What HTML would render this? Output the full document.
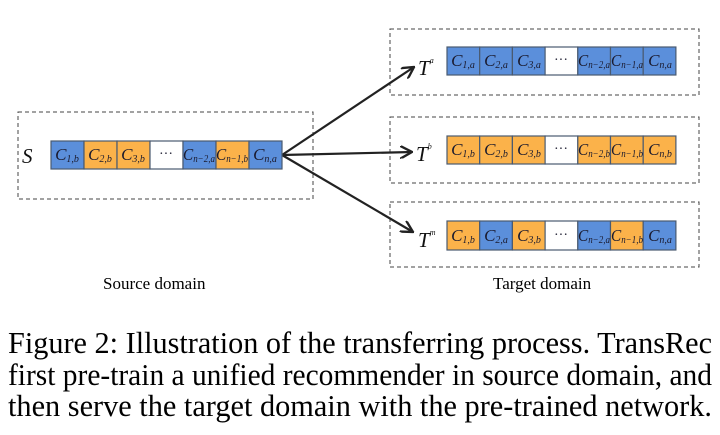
<!DOCTYPE html>
<html><head><meta charset="utf-8"><style>
html,body{margin:0;padding:0;background:#fff;}
svg{display:block;}
.c{font-family:"Liberation Serif",serif;font-style:italic;font-size:17px;fill:#1a1a2e;text-anchor:middle;}
.s{font-size:10px;}
.T{font-family:"Liberation Serif",serif;font-style:italic;font-size:21px;fill:#111;}
.cap{font-family:"Liberation Serif",serif;font-size:31px;fill:#000;}
.lab{font-family:"Liberation Serif",serif;font-size:17px;fill:#000;}
</style></head><body>
<svg width="720" height="435" viewBox="0 0 720 435" xmlns="http://www.w3.org/2000/svg">
<defs><marker id="ah" viewBox="0 0 12 12" refX="11" refY="6" markerWidth="13" markerHeight="13" orient="auto" markerUnits="userSpaceOnUse"><path d="M0,0 L11,6 L0,12" fill="none" stroke="#222" stroke-width="2.2"/></marker></defs>
<g fill="none" stroke="#444" stroke-width="1" stroke-dasharray="4,3">
<rect x="18" y="112" width="295" height="87"/>
<rect x="390" y="29" width="309" height="66"/>
<rect x="390" y="117" width="309" height="66"/>
<rect x="390" y="202" width="309" height="65"/>
</g>
<g stroke="#222" stroke-width="2.2" fill="none">
<line x1="282" y1="155" x2="414" y2="67" marker-end="url(#ah)"/>
<line x1="282" y1="155" x2="412" y2="152" marker-end="url(#ah)"/>
<line x1="282" y1="155" x2="413" y2="232" marker-end="url(#ah)"/>
</g>
<text x="22" y="163" class="T">S</text>
<text x="418" y="75" class="T">T<tspan dy="-12" style="font-size:8px">a</tspan></text>
<text x="416" y="161" class="T">T<tspan dy="-12" style="font-size:8px">b</tspan></text>
<text x="418" y="247" class="T">T<tspan dy="-12" style="font-size:8px">m</tspan></text>
<g stroke="#4a5a70" stroke-width="1.2">
<rect x="51" y="141" width="33" height="28" fill="#5b8fdb"/>
<rect x="84" y="141" width="33" height="28" fill="#fbb24a"/>
<rect x="117" y="141" width="33" height="28" fill="#fbb24a"/>
<rect x="150" y="141" width="33" height="28" fill="#fff"/>
<rect x="183" y="141" width="33" height="28" fill="#5b8fdb"/>
<rect x="216" y="141" width="33" height="28" fill="#fbb24a"/>
<rect x="249" y="141" width="33" height="28" fill="#5b8fdb"/>
<rect x="447" y="47" width="32.7" height="28" fill="#5b8fdb"/>
<rect x="479.7" y="47" width="32.7" height="28" fill="#5b8fdb"/>
<rect x="512.4" y="47" width="32.7" height="28" fill="#5b8fdb"/>
<rect x="545.1" y="47" width="32.7" height="28" fill="#fff"/>
<rect x="577.8" y="47" width="32.7" height="28" fill="#5b8fdb"/>
<rect x="610.5" y="47" width="32.7" height="28" fill="#5b8fdb"/>
<rect x="643.2" y="47" width="32.7" height="28" fill="#5b8fdb"/>
<rect x="447" y="136" width="32.7" height="28" fill="#fbb24a"/>
<rect x="479.7" y="136" width="32.7" height="28" fill="#fbb24a"/>
<rect x="512.4" y="136" width="32.7" height="28" fill="#fbb24a"/>
<rect x="545.1" y="136" width="32.7" height="28" fill="#fff"/>
<rect x="577.8" y="136" width="32.7" height="28" fill="#fbb24a"/>
<rect x="610.5" y="136" width="32.7" height="28" fill="#fbb24a"/>
<rect x="643.2" y="136" width="32.7" height="28" fill="#fbb24a"/>
<rect x="447" y="221" width="32.7" height="29" fill="#fbb24a"/>
<rect x="479.7" y="221" width="32.7" height="29" fill="#5b8fdb"/>
<rect x="512.4" y="221" width="32.7" height="29" fill="#fbb24a"/>
<rect x="545.1" y="221" width="32.7" height="29" fill="#fff"/>
<rect x="577.8" y="221" width="32.7" height="29" fill="#5b8fdb"/>
<rect x="610.5" y="221" width="32.7" height="29" fill="#fbb24a"/>
<rect x="643.2" y="221" width="32.7" height="29" fill="#5b8fdb"/>
</g>
<g>
<text x="67" y="160" class="c">C<tspan class="s" dy="2">1,b</tspan></text>
<text x="100" y="160" class="c">C<tspan class="s" dy="2">2,b</tspan></text>
<text x="133" y="160" class="c">C<tspan class="s" dy="2">3,b</tspan></text>
<text x="166" y="158" class="c" style="font-style:normal;font-size:14px">···</text>
<text x="199" y="160" class="c" textLength="32" lengthAdjust="spacingAndGlyphs">C<tspan class="s" dy="2">n−2,a</tspan></text>
<text x="232" y="160" class="c" textLength="32" lengthAdjust="spacingAndGlyphs">C<tspan class="s" dy="2">n−1,b</tspan></text>
<text x="265" y="160" class="c">C<tspan class="s" dy="2">n,a</tspan></text>

<text x="463" y="66" class="c">C<tspan class="s" dy="2">1,a</tspan></text>
<text x="496" y="66" class="c">C<tspan class="s" dy="2">2,a</tspan></text>
<text x="529" y="66" class="c">C<tspan class="s" dy="2">3,a</tspan></text>
<text x="561" y="64" class="c" style="font-style:normal;font-size:14px">···</text>
<text x="594" y="66" class="c" textLength="32" lengthAdjust="spacingAndGlyphs">C<tspan class="s" dy="2">n−2,a</tspan></text>
<text x="627" y="66" class="c" textLength="32" lengthAdjust="spacingAndGlyphs">C<tspan class="s" dy="2">n−1,a</tspan></text>
<text x="660" y="66" class="c">C<tspan class="s" dy="2">n,a</tspan></text>

<text x="463" y="155" class="c">C<tspan class="s" dy="2">1,b</tspan></text>
<text x="496" y="155" class="c">C<tspan class="s" dy="2">2,b</tspan></text>
<text x="529" y="155" class="c">C<tspan class="s" dy="2">3,b</tspan></text>
<text x="561" y="153" class="c" style="font-style:normal;font-size:14px">···</text>
<text x="594" y="155" class="c" textLength="32" lengthAdjust="spacingAndGlyphs">C<tspan class="s" dy="2">n−2,b</tspan></text>
<text x="627" y="155" class="c" textLength="32" lengthAdjust="spacingAndGlyphs">C<tspan class="s" dy="2">n−1,b</tspan></text>
<text x="660" y="155" class="c">C<tspan class="s" dy="2">n,b</tspan></text>

<text x="463" y="241" class="c">C<tspan class="s" dy="2">1,b</tspan></text>
<text x="496" y="241" class="c">C<tspan class="s" dy="2">2,a</tspan></text>
<text x="529" y="241" class="c">C<tspan class="s" dy="2">3,b</tspan></text>
<text x="561" y="239" class="c" style="font-style:normal;font-size:14px">···</text>
<text x="594" y="241" class="c" textLength="32" lengthAdjust="spacingAndGlyphs">C<tspan class="s" dy="2">n−2,a</tspan></text>
<text x="627" y="241" class="c" textLength="32" lengthAdjust="spacingAndGlyphs">C<tspan class="s" dy="2">n−1,b</tspan></text>
<text x="660" y="241" class="c">C<tspan class="s" dy="2">n,a</tspan></text>
</g>
<text x="103" y="289" class="lab">Source domain</text>
<text x="493" y="289" class="lab">Target domain</text>
<text x="8" y="353" class="cap" textLength="704" lengthAdjust="spacingAndGlyphs">Figure 2: Illustration of the transferring process. TransRec</text>
<text x="8" y="385" class="cap" textLength="704" lengthAdjust="spacingAndGlyphs">first pre-train a unified recommender in source domain, and</text>
<text x="8" y="416" class="cap" textLength="704" lengthAdjust="spacingAndGlyphs">then serve the target domain with the pre-trained network.</text>
</svg>
</body></html>
